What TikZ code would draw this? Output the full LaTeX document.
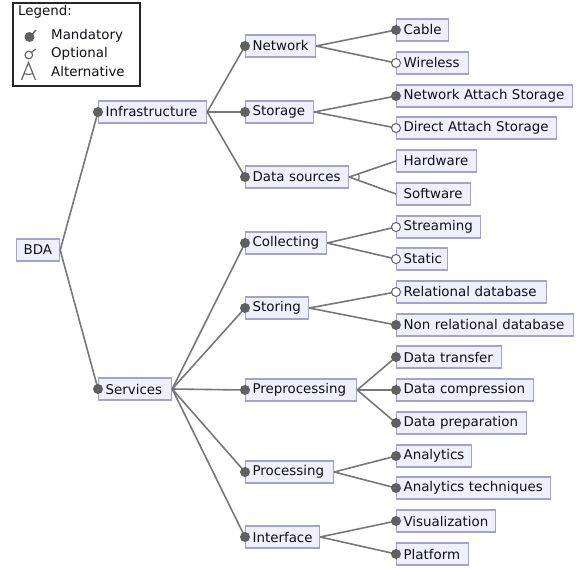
\documentclass[tikz,border=0pt]{standalone}
\usepackage{fontspec}
\setmainfont{DejaVu Sans}
\usetikzlibrary{calc}
\definecolor{boxfill}{HTML}{EFEFFD}
\definecolor{boxdraw}{HTML}{A2A2CC}
\definecolor{linegray}{HTML}{777777}
\definecolor{dotgray}{HTML}{606060}
\definecolor{txt}{HTML}{101018}
\begin{document}
\begin{tikzpicture}[x=1pt,y=1pt,
  feat/.style={draw=boxdraw, fill=boxfill, line width=1.2pt, anchor=west,
    minimum height=22pt, inner xsep=7pt, inner ysep=0pt, text=txt,
    text width=#1-14pt, align=left,
    font=\fontsize{13.4}{15}\selectfont},
  conn/.style={draw=linegray, line width=1.6pt},
  mand/.style={fill=dotgray},
  opt/.style={fill=white, draw=dotgray, line width=1pt},
  legtext/.style={anchor=west, inner sep=0pt, text=txt, font=\fontsize{13.4}{15}\selectfont}
]
\useasboundingbox (0,0) rectangle (581,-570);
\fill[white] (0,0) rectangle (581,-570);

% legend
\draw[black!85, line width=1.3pt] (13,-3) rectangle (140,-86);
\node[legtext] (lgt) at (18,-12) {Legend:};
\node[legtext] (lgm) at (51,-36) {Mandatory};
\node[legtext] (lgo) at (51,-54) {Optional};
\node[legtext] (lga) at (51,-72) {Alternative};
\coordinate (lm) at (29.5,-37);
\draw[dotgray, line width=1.3pt] (lm) -- (36,-30);
\fill[dotgray] (lm) circle[radius=5];
\coordinate (lo) at (28.8,-55);
\draw[dotgray, line width=1.2pt] ($(lo)+(45:3.8)$) -- (35.5,-49);
\draw[dotgray, line width=1.1pt, fill=white] (lo) circle[radius=3.8];
\coordinate (la) at (28.5,-62.5);
\draw[dotgray, line width=1.2pt] (21.5,-80) -- (la) -- (35.5,-80);
\draw[dotgray, line width=1.1pt] ($(la)+(248.5:12)$) arc[start angle=248.5, end angle=291.5, radius=12];

% nodes
\node[feat=43] (bda) at (16,-250) {BDA};
\node[feat=108] (inf) at (98,-112) {Infrastructure};
\node[feat=73] (srv) at (98,-389) {Services};

\node[feat=70] (net) at (245,-46) {Network};
\node[feat=68] (sto) at (245,-112) {Storage};
\node[feat=103] (dsr) at (245,-177) {Data sources};
\node[feat=81] (col) at (245,-243) {Collecting};
\node[feat=63] (sti) at (245,-308) {Storing};
\node[feat=111] (pre) at (245,-390) {Preprocessing};
\node[feat=88] (prc) at (245,-472) {Processing};
\node[feat=74] (itf) at (245,-537) {Interface};

\node[feat=52] (cab) at (396,-30) {Cable};
\node[feat=72] (wir) at (396,-63) {Wireless};
\node[feat=176] (nas) at (396,-96) {Network Attach Storage};
\node[feat=160] (das) at (396,-128) {Direct Attach Storage};
\node[feat=80] (hw) at (396,-161) {Hardware};
\node[feat=74] (sw) at (396,-194) {Software};
\node[feat=84] (stm) at (396,-227) {Streaming};
\node[feat=51] (sta) at (396,-259) {Static};
\node[feat=150] (rel) at (396,-292) {Relational database};
\node[feat=177] (nrel) at (396,-325) {Non relational database};
\node[feat=105] (dtr) at (396,-357) {Data transfer};
\node[feat=137] (dco) at (396,-390) {Data compression};
\node[feat=130] (dpr) at (396,-423) {Data preparation};
\node[feat=75] (ana) at (396,-456) {Analytics};
\node[feat=154] (ant) at (396,-488) {Analytics techniques};
\node[feat=99] (vis) at (396,-521) {Visualization};
\node[feat=72] (plt) at (396,-554) {Platform};

% connectors
\foreach \p/\c in {bda/inf, bda/srv, inf/net, inf/sto, inf/dsr,
  srv/col, srv/sti, srv/pre, srv/prc, srv/itf,
  net/cab, net/wir, sto/nas, sto/das, dsr/hw, dsr/sw,
  col/stm, col/sta, sti/rel, sti/nrel, pre/dtr, pre/dco, pre/dpr,
  prc/ana, prc/ant, itf/vis, itf/plt}
  \draw[conn] (\p.east) -- (\c.west);

% mandatory dots
\foreach \c in {inf, srv, net, sto, dsr, col, sti, pre, prc, itf,
  cab, nas, nrel, dtr, dco, dpr, ana, ant, vis, plt}
  \fill[mand] (\c.west) circle[radius=5];
% optional dots
\foreach \c in {wir, das, stm, sta, rel}
  \draw[opt] (\c.west) circle[radius=4.5];

% alternative arc
\draw[linegray, line width=1.2pt] ($(dsr.east)+(18.8:10)$) arc[start angle=18.8, end angle=-19.9, radius=10];
\end{tikzpicture}
\end{document}
